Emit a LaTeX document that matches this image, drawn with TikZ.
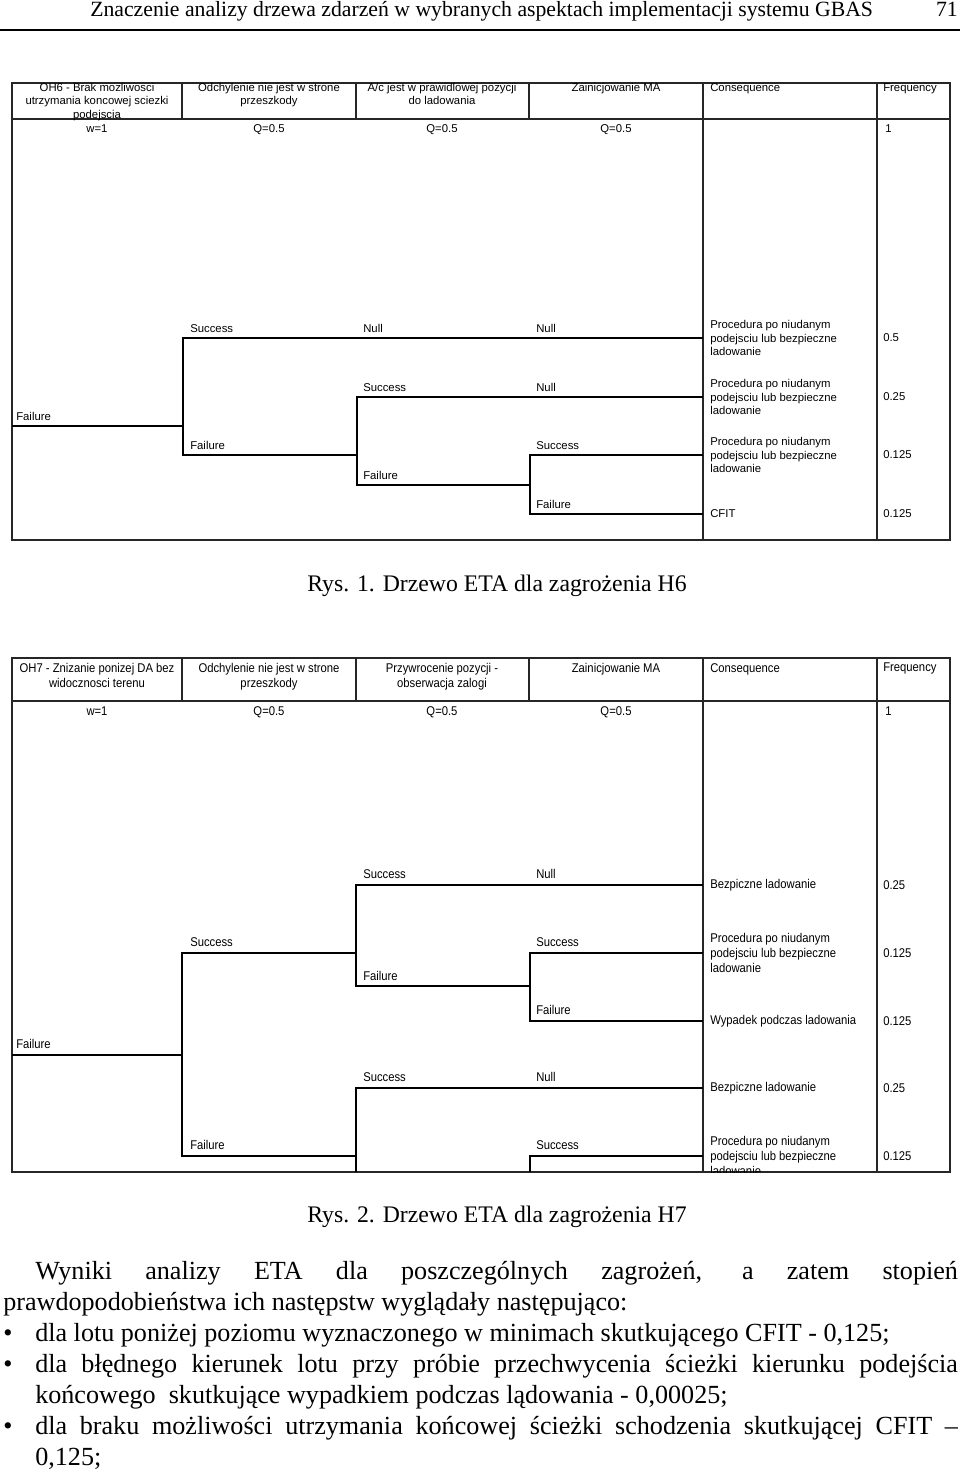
\documentclass[tikz,border=0pt]{standalone}
\usepackage{fontspec}
\setmainfont{Liberation Serif}
\newfontfamily\tabfont{Liberation Sans}
\newfontfamily\tabnarrow[FakeStretch=0.89]{Liberation Sans}
\usetikzlibrary{calc,positioning}
\tikzset{
    frame/.style = {draw=black!85, line width=1pt},
    hline/.style = {draw=black!85, line width=1.6pt},
    branch/.style = {line width=1.1pt},
    thickbranch/.style = {line width=2pt},
    lbl/.style = {font=\tabfont\fontsize{8.5}{10.1}\selectfont, anchor=base west, inner sep=0pt},
    lblb/.style = {font=\tabnarrow\fontsize{9.5}{11.3}\selectfont, anchor=base west, inner sep=0pt},
    hdr/.style = {lbl, anchor=north, align=center},
    hdrb/.style = {lblb, anchor=north, align=center},
    cons/.style = {lbl, anchor=west, align=left},
    consb/.style = {lblb, anchor=west, align=left},
    body/.style = {font=\fontsize{19.6}{23.25}\selectfont, inner sep=0pt, anchor=base west},
    caption/.style = {font=\fontsize{17.8}{21}\selectfont, inner sep=0pt, anchor=base},
    runhead/.style = {font=\fontsize{16.3}{19}\selectfont, inner sep=0pt}
}

\begin{document}
\begin{tikzpicture}[x=0.75pt, y=-0.75pt]
  \useasboundingbox (0,0) rectangle (960,1471);

  % running head
  \node[runhead, anchor=base west] (title) at (90,16) {Znaczenie analizy drzewa zdarzeń w wybranych aspektach implementacji systemu GBAS};
  \node[runhead, anchor=base east] (pagenum) at (958,16) {71};
  \coordinate (ruleL) at (0,30);
  \coordinate (ruleR) at (960,30);
  \draw[line width=1.5pt] (ruleL) -- (ruleR);

  % ---------------- Rys. 1 ----------------
  \draw[frame] (12,83) rectangle (950,540);
  \draw[hline] (12,119) -- (950,119);
  \draw[frame] (182,83) -- (182,119) (356,83) -- (356,119) (529,83) -- (529,119);
  \draw[frame] (703,83) -- (703,540) (877,83) -- (877,540);

  \node[hdr] (h1a) at (97,83) {OH6 - Brak mozliwosci\\utrzymania koncowej sciezki\\podejscia};
  \node[hdr] (h1b) at (269,83) {Odchylenie nie jest w strone\\przeszkody};
  \node[hdr] (h1c) at (442,83) {A/c jest w prawidlowej pozycji\\do ladowania};
  \node[hdr] (h1d) at (616,83) {Zainicjowanie MA};
  \node[hdr, anchor=north west] (h1e) at (710,83) {Consequence};
  \node[hdr, anchor=north west] (h1f) at (883,83) {Frequency};

  \node[lbl, anchor=base] (w1) at (97,132) {w=1};
  \node[lbl, anchor=base] (q1b) at (269,132) {Q=0.5};
  \node[lbl, anchor=base] (q1c) at (442,132) {Q=0.5};
  \node[lbl, anchor=base] (q1d) at (616,132) {Q=0.5};
  \node[lbl] (f1) at (885,132) {1};

  % tree
  \coordinate (r1) at (12,426);
  \coordinate (a1) at (183,426);
  \coordinate (b1) at (357,455);
  \coordinate (c1) at (530,485);
  \coordinate (l1) at (703,338);
  \coordinate (l2) at (703,397);
  \coordinate (l3) at (703,455);
  \coordinate (l4) at (703,514);

  \draw[branch] (r1) -- (a1);
  \draw[branch] (l1) -| (a1) |- (b1);
  \draw[branch] (l2) -| (b1) |- (c1);
  \draw[branch] (l3) -| (c1) |- (l4);

  \node[lbl] (t1a) at (16,420) {Failure};
  \node[lbl] (t1b) at (190,332) {Success};
  \node[lbl] (t1c) at (363,332) {Null};
  \node[lbl] (t1d) at (536,332) {Null};
  \node[lbl] (t1e) at (190,449) {Failure};
  \node[lbl] (t1f) at (363,391) {Success};
  \node[lbl] (t1g) at (536,391) {Null};
  \node[lbl] (t1h) at (363,479) {Failure};
  \node[lbl] (t1i) at (536,449) {Success};
  \node[lbl] (t1j) at (536,508) {Failure};

  \node[cons] (c1a) at (710,338) {Procedura po niudanym\\podejsciu lub bezpieczne\\ladowanie};
  \node[cons] (c1b) at (710,397) {Procedura po niudanym\\podejsciu lub bezpieczne\\ladowanie};
  \node[cons] (c1c) at (710,455) {Procedura po niudanym\\podejsciu lub bezpieczne\\ladowanie};
  \node[cons] (c1d) at (710,514) {CFIT};
  \node[cons] (p1a) at (883,338) {0.5};
  \node[cons] (p1b) at (883,397) {0.25};
  \node[cons] (p1c) at (883,455) {0.125};
  \node[cons] (p1d) at (883,514) {0.125};

  \node[caption] (cap1) at (497,591) {Rys. 1. Drzewo ETA dla zagrożenia H6};

  % ---------------- Rys. 2 ----------------
  \draw[frame] (12,658) rectangle (950,1172);
  \draw[hline] (12,701) -- (950,701);
  \draw[frame] (182,658) -- (182,701) (356,658) -- (356,701) (529,658) -- (529,701);
  \draw[frame] (703,658) -- (703,1172) (877,658) -- (877,1172);

  \node[hdrb] (h2a) at (97,663) {OH7 - Znizanie ponizej DA bez\\widocznosci terenu};
  \node[hdrb] (h2b) at (269,663) {Odchylenie nie jest w strone\\przeszkody};
  \node[hdrb] (h2c) at (442,663) {Przywrocenie pozycji -\\obserwacja zalogi};
  \node[hdrb] (h2d) at (616,663) {Zainicjowanie MA};
  \node[hdrb, anchor=north west] (h2e) at (710,663) {Consequence};
  \node[hdrb, anchor=north west] (h2f) at (883,663) {Frequency};

  \node[lblb, anchor=base] (w2) at (97,715) {w=1};
  \node[lblb, anchor=base] (q2b) at (269,715) {Q=0.5};
  \node[lblb, anchor=base] (q2c) at (442,715) {Q=0.5};
  \node[lblb, anchor=base] (q2d) at (616,715) {Q=0.5};
  \node[lblb] (f2) at (885,715) {1};

  % tree
  \coordinate (r2) at (12,1055);
  \coordinate (d2) at (182,1055);
  \coordinate (e2) at (356,953);
  \coordinate (g2) at (356,1156);
  \coordinate (fk2) at (530,986);
  \coordinate (l5) at (703,885);
  \coordinate (l6) at (703,953);
  \coordinate (l7) at (703,1021);
  \coordinate (l8) at (703,1088);
  \coordinate (l9) at (703,1156);
  \coordinate (gb) at (356,1172);
  \coordinate (hb) at (530,1172);

  \draw[branch] (r2) -- (d2);
  \draw[branch] (e2) -| (d2) |- (g2);
  \draw[branch] (l5) -| (e2) |- (fk2);
  \draw[branch] (l6) -| (fk2) |- (l7);
  \draw[thickbranch] (fk2 |- l7) -- (l7);
  \draw[branch] (l8) -| (g2) -- (gb);
  \draw[branch] (l9) -| (hb);

  \node[lblb] (t2a) at (16,1048) {Failure};
  \node[lblb] (t2b) at (190,946) {Success};
  \node[lblb] (t2c) at (363,878) {Success};
  \node[lblb] (t2d) at (536,878) {Null};
  \node[lblb] (t2e) at (363,980) {Failure};
  \node[lblb] (t2f) at (536,946) {Success};
  \node[lblb] (t2g) at (536,1014) {Failure};
  \node[lblb] (t2h) at (190,1149) {Failure};
  \node[lblb] (t2i) at (363,1081) {Success};
  \node[lblb] (t2j) at (536,1081) {Null};
  \node[lblb] (t2k) at (536,1149) {Success};

  \node[consb] (c2a) at (710,885) {Bezpiczne ladowanie};
  \node[consb] (c2b) at (710,953) {Procedura po niudanym\\podejsciu lub bezpieczne\\ladowanie};
  \node[consb] (c2c) at (710,1021) {Wypadek podczas ladowania};
  \node[consb] (c2d) at (710,1088) {Bezpiczne ladowanie};
  \begin{scope}
    \clip (12,658) rectangle (950,1172);
    \node[consb] (c2e) at (710,1156) {Procedura po niudanym\\podejsciu lub bezpieczne\\ladowanie};
  \end{scope}
  \node[consb] (p2a) at (883,885) {0.25};
  \node[consb] (p2b) at (883,953) {0.125};
  \node[consb] (p2c) at (883,1021) {0.125};
  \node[consb] (p2d) at (883,1088) {0.25};
  \node[consb] (p2e) at (883,1156) {0.125};

  \node[caption] (cap2) at (497,1222) {Rys. 2. Drzewo ETA dla zagrożenia H7};

  % text below
  \node[body] (par1) at (35,1279) {\makebox[692pt][s]{Wyniki analizy ETA dla poszczególnych zagrożeń, a zatem stopień}};
  \node[body] (par2) at (3,1310) {prawdopodobieństwa ich następstw wyglądały następująco:};
  \node[body] (dot1) at (3,1341) {\textbullet};
  \node[body] (it1) at (35,1341) {dla lotu poniżej poziomu wyznaczonego w minimach skutkującego CFIT - 0,125;};
  \node[body] (dot2) at (3,1372) {\textbullet};
  \node[body] (it2a) at (35,1372) {\makebox[692pt][s]{dla błędnego kierunek lotu przy próbie przechwycenia ścieżki kierunku podejścia}};
  \node[body] (it2b) at (35,1403) {końcowego \ skutkujące wypadkiem podczas lądowania - 0,00025;};
  \node[body] (dot3) at (3,1434) {\textbullet};
  \node[body] (it3a) at (35,1434) {\makebox[692pt][s]{dla braku możliwości utrzymania końcowej ścieżki schodzenia skutkującej CFIT –}};
  \node[body] (it3b) at (35,1465) {0,125;};
\end{tikzpicture}
\end{document}
